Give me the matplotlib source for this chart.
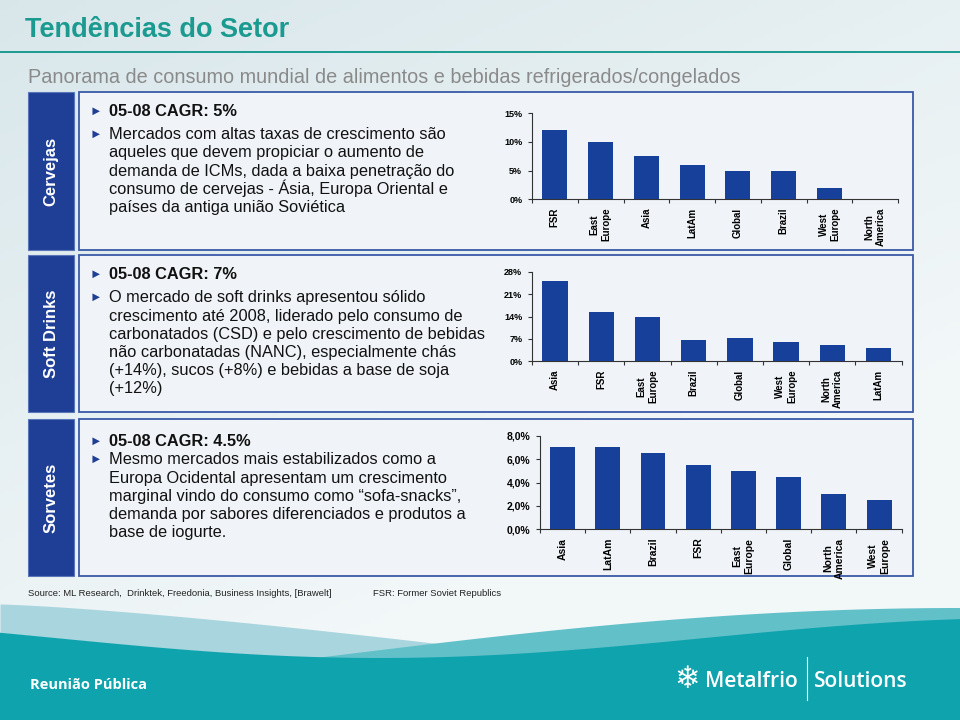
import numpy as np
import matplotlib
matplotlib.use("Agg")
import matplotlib.pyplot as plt
from matplotlib.patches import Rectangle

W, H = 960, 720

# CAGR 05-08 por região
beer_regions = ["FSR", "East\nEurope", "Asia", "LatAm", "Global", "Brazil", "West\nEurope", "North\nAmerica"]
beer_cagr = [12.0, 10.0, 7.5, 6.0, 5.0, 5.0, 2.0, 0.0]
beer_ticks = [0, 5, 10, 15]

soft_regions = ["Asia", "FSR", "East\nEurope", "Brazil", "Global", "West\nEurope", "North\nAmerica", "LatAm"]
soft_cagr = [25.0, 15.3, 14.0, 6.6, 7.2, 6.0, 5.2, 4.1]
soft_ticks = [0, 7, 14, 21, 28]

ice_regions = ["Asia", "LatAm", "Brazil", "FSR", "East\nEurope", "Global", "North\nAmerica", "West\nEurope"]
ice_cagr = [7.0, 7.0, 6.5, 5.5, 5.0, 4.5, 3.0, 2.5]
ice_ticks = [0, 2, 4, 6, 8]

beer_text = ["05-08 CAGR: 5%",
             "Mercados com altas taxas de crescimento são",
             "aqueles que devem propiciar o aumento de",
             "demanda de ICMs, dada a baixa penetração do",
             "consumo de cervejas - Ásia, Europa Oriental e",
             "países da antiga união Soviética"]
soft_text = ["05-08 CAGR: 7%",
             "O mercado de soft drinks apresentou sólido",
             "crescimento até 2008, liderado pelo consumo de",
             "carbonatados (CSD) e pelo crescimento de bebidas",
             "não carbonatadas (NANC), especialmente chás",
             "(+14%), sucos (+8%) e bebidas a base de soja",
             "(+12%)"]
ice_text = ["05-08 CAGR: 4.5%",
            "Mesmo mercados mais estabilizados como a",
            "Europa Ocidental apresentam um crescimento",
            "marginal vindo do consumo como \u201csofa-snacks\u201d,",
            "demanda por sabores diferenciados e produtos a",
            "base de iogurte."]

BAR = "#17409a"
NAVY = "#1f3f96"
TEAL = "#1b9a90"
FONT = ["Liberation Sans", "DejaVu Sans"]

plt.rcParams["font.family"] = FONT

fig = plt.figure(figsize=(9.6, 7.2), dpi=100)

# background layer in pixel coordinates
bg = fig.add_axes([0, 0, 1, 1])
bg.set_xlim(0, W)
bg.set_ylim(H, 0)
bg.axis("off")

gx, gy = np.meshgrid(np.linspace(0, 1, 200), np.linspace(0, 1, 150))
t = np.clip(0.55 * gx + 0.9 * gy, 0, 1)
c0 = np.array([0.85, 0.905, 0.92])
c1 = np.array([0.95, 0.97, 0.975])
img = c0 + (c1 - c0) * t[..., None]
bg.imshow(img, extent=[0, W, H, 0], aspect="auto", zorder=0)

# title
bg.text(25, 37, "Tendências do Setor", fontsize=19.5, fontweight="bold",
        color=TEAL, va="baseline")
bg.plot([0, W], [52, 52], color=TEAL, lw=1.4, zorder=2)
bg.text(28, 83, "Panorama de consumo mundial de alimentos e bebidas refrigerados/congelados",
        fontsize=14.3, color="#8a8a8a", va="baseline")

# panels
panels = [
    ("Cervejas", 92, 250, beer_text, [115.7, 139.3]),
    ("Soft Drinks", 255, 412, soft_text, [278.7, 302.3]),
    ("Sorvetes", 419, 576, ice_text, [446.0, 464.3]),
]
for name, top, bot, lines, base in panels:
    bg.add_patch(Rectangle((28, top), 46, bot - top, facecolor=NAVY,
                           edgecolor="#5a76b8", lw=0.8, zorder=2))
    bg.add_patch(Rectangle((79, top), 834, bot - top, facecolor="#f0f4f8",
                           edgecolor="#3a5aa8", lw=1.3, zorder=2))
    bg.text(51, (top + bot) / 2, name, rotation=90, color="white", fontsize=12,
            fontweight="bold", ha="center", va="center", zorder=3)
    for i, line in enumerate(lines):
        y = base[0] if i == 0 else base[1] + (i - 1) * 18.2
        if i < 2:
            bg.text(90, y - 1, "\u25ba", fontsize=9, color=NAVY, va="baseline", zorder=3)
        bg.text(109, y, line, fontsize=11.8, color="#111111", va="baseline",
                fontweight="bold" if i == 0 else "normal", zorder=3)

# sources
bg.text(28, 596, "Source: ML Research,  Drinktek, Freedonia, Business Insights, [Brawelt]",
        fontsize=6.8, color="#222222", va="baseline")
bg.text(373, 596, "FSR: Former Soviet Republics", fontsize=6.8,
        color="#222222", va="baseline")

# footer waves
xs = np.linspace(0, W, 400)
y_dark = 638 + 20 * np.cos(2 * np.pi * (xs - 380) / 1300)
y_med = 660 - 52 * np.sin(np.pi / 2 * np.clip((xs - 300) / 660, 0, 1))
y_pale = 604 + 52 * np.clip(xs / 540, 0, 1) ** 1.3
bg.fill_between(xs, y_pale, y_dark, where=y_pale < y_dark, color="#a9d6de", zorder=1, lw=0)
bg.fill_between(xs, y_med, H, color="#62c0c9", zorder=1.1, lw=0)
bg.fill_between(xs, y_dark, H, color="#0ea3ad", zorder=1.2, lw=0)

bg.text(30, 689, "Reunião Pública", fontsize=10.5, fontweight="bold", color="white",
        family=["Open Sans", "DejaVu Sans"], va="baseline", zorder=3)
bg.text(687, 680, "\u2744", fontsize=22, color="white", ha="center", va="center",
        family="DejaVu Sans", zorder=3)
bg.text(705, 687, "Metalfrio", fontsize=15, fontweight="semibold", color="white",
        family=["Open Sans", "DejaVu Sans"], va="baseline", zorder=3)
bg.plot([807, 807], [657, 700], color="white", lw=0.8, zorder=3)
bg.text(814, 687, "Solutions", fontsize=15, fontweight="semibold", color="white",
        family=["Open Sans", "DejaVu Sans"], va="baseline", zorder=3)


def px_axes(x0, y0, x1, y1):
    return fig.add_axes([x0 / W, 1 - y1 / H, (x1 - x0) / W, (y1 - y0) / H])


def bar_panel(ax, labels, values, ticks, fmt, ysize, xsize):
    x = np.arange(len(values))
    ax.bar(x, values, width=0.55, color=BAR, zorder=3)
    ax.set_xlim(-0.5, len(values) - 0.5)
    ax.set_ylim(ticks[0], ticks[-1])
    ax.set_yticks(ticks)
    ax.set_yticklabels([fmt(v) for v in ticks], fontsize=ysize, fontweight="bold")
    ax.set_xticks(x)
    ax.set_xticklabels(labels, rotation=90, fontsize=xsize, fontweight="bold",
                       multialignment="center")
    ax.set_xticks(np.arange(len(values) + 1) - 0.5, minor=True)
    ax.tick_params(axis="x", which="major", length=0, pad=6)
    ax.tick_params(axis="x", which="minor", length=3, width=0.8, color="#333333")
    ax.tick_params(axis="y", length=3, width=0.8, color="#333333", pad=4)
    for s in ("top", "right"):
        ax.spines[s].set_visible(False)
    for s in ("left", "bottom"):
        ax.spines[s].set_color("#333333")
        ax.spines[s].set_linewidth(0.8)
    ax.patch.set_alpha(0)


ax1 = px_axes(532, 113.3, 898, 199.3)
bar_panel(ax1, beer_regions, beer_cagr, beer_ticks, lambda v: f"{v}%", 6.5, 7)

ax2 = px_axes(532, 271.7, 901.7, 361.3)
bar_panel(ax2, soft_regions, soft_cagr, soft_ticks, lambda v: f"{v}%", 6.5, 7)

ax3 = px_axes(540, 435.7, 901.7, 529.3)
bar_panel(ax3, ice_regions, ice_cagr, ice_ticks,
          lambda v: f"{v:.1f}%".replace(".", ","), 7.5, 7.5)

fig.savefig("out.png", dpi=100)
